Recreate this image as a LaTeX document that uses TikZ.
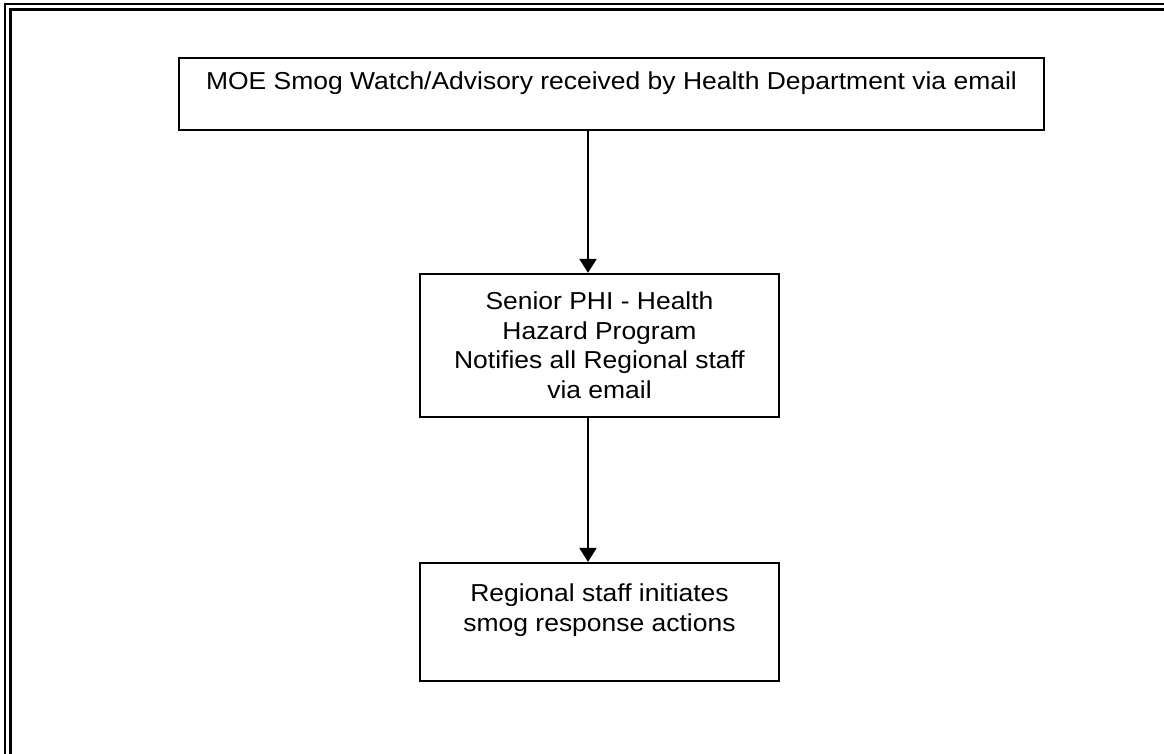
\documentclass[tikz,border=0pt]{standalone}
\usepackage{fontspec}
\setmainfont[FakeStretch=1.08]{Liberation Sans}
\usetikzlibrary{arrows.meta}
\begin{document}
\begin{tikzpicture}[x=1pt,y=-1pt,
  box/.style={draw=black,line width=2.3pt,rectangle,inner sep=0pt},
  txt/.style={anchor=north,inner sep=0pt,align=center,
    font=\fontsize{24.5}{29.7}\selectfont},
  arr/.style={line width=2.3pt,-{Triangle[length=14pt,width=17pt]}},
  frame/.style={line cap=butt}]
\useasboundingbox (0,0) rectangle (1164,754);
% page frame (double rule)
\draw[frame,line width=1.8pt] (5,760) -- (5,3.8) -- (1170,3.8);
\draw[frame,line width=2.8pt] (10.5,760) -- (10.5,9.6) -- (1170,9.6);
% boxes
\node[box,minimum width=865pt,minimum height=72pt] (b1) at (611.5,94) {};
\node[box,minimum width=359pt,minimum height=143pt] (b2) at (599.5,345.5) {};
\node[box,minimum width=359pt,minimum height=118pt] (b3) at (599.5,622) {};
% box texts
\node[txt] (t1) at (611.5,71.5) {MOE Smog Watch/Advisory received by Health Department via email};
\node[txt] (t2) at (599.5,291.5) {Senior PHI - Health\\Hazard Program\\Notifies all Regional staff\\via email};
\node[txt] (t3) at (599.5,583.5) {Regional staff initiates\\smog response actions};
% connectors
\draw[arr] ([xshift=-23.5pt]b1.south) -- ([xshift=-11.5pt]b2.north);
\draw[arr] ([xshift=-11.5pt]b2.south) -- ([xshift=-11.5pt]b3.north);
\end{tikzpicture}
\end{document}
